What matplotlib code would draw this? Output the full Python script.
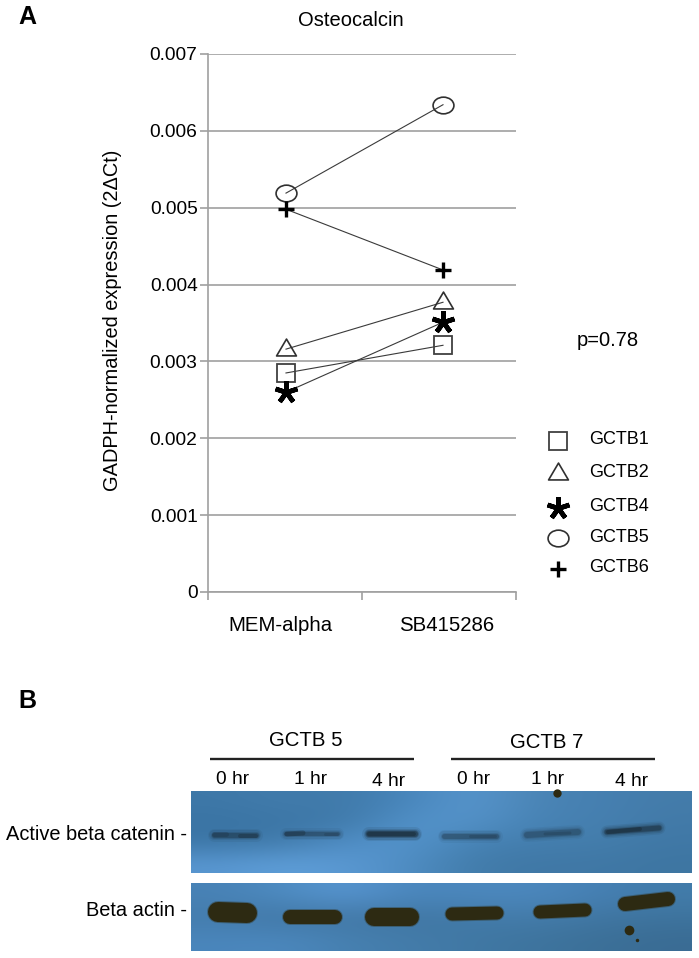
import numpy as np
import matplotlib
matplotlib.use("Agg")
import matplotlib.pyplot as plt
from matplotlib.path import Path
from matplotlib.transforms import Affine2D

plt.rcParams['font.family'] = ['Liberation Sans', 'DejaVu Sans']

# Dados do painel A
conditions = ['MEM-alpha', 'SB415286']
samples = ['GCTB1', 'GCTB2', 'GCTB4', 'GCTB5', 'GCTB6']
gctb1 = [0.00285, 0.00321]
gctb2 = [0.00316, 0.00377]
gctb4 = [0.00260, 0.00351]
gctb5 = [0.00519, 0.00634]
gctb6 = [0.00498, 0.00419]
yticks = [0, 0.001, 0.002, 0.003, 0.004, 0.005, 0.006, 0.007]
ytick_labels = ['0', '0.001', '0.002', '0.003', '0.004', '0.005', '0.006', '0.007']

# Dados do painel B (western blot)
lanes = ['0 hr', '1 hr', '4 hr', '0 hr', '1 hr', '4 hr']
lane_x = [233, 311, 389, 474, 548, 632]
lane_y = [779, 779, 780, 779, 778, 780]
# x0, x1, y0, y1, espessura, opacidade
catenin_bands = [
    (214, 256, 835, 835, 5, 0.55), (286, 338, 834, 834, 4, 0.5),
    (369, 415, 834, 834, 6, 0.85),
    (444, 496, 836, 836, 5, 0.5),
    (527, 578, 835, 832, 6, 0.45),
    (607, 659, 832, 828, 5, 0.75),
]
catenin_cores = [
    (214, 226, 834, 834, 5, 0.2), (240, 256, 836, 836, 4, 0.3),
    (287, 303, 834, 833, 5, 0.35), (325, 337, 834, 834, 3, 0.18),
    (369, 414, 834, 834, 4, 0.4),
    (470, 495, 836, 836, 3, 0.18),
    (545, 570, 834, 833, 3, 0.2),
    (608, 640, 832, 829, 4, 0.4),
]
actin_bands = [
    (218, 247, 912, 913, 20, 1.0),
    (290, 335, 917, 917, 14, 1.0),
    (374, 410, 917, 917, 18, 1.0),
    (452, 497, 914, 913, 13, 1.0),
    (540, 585, 912, 910, 13, 1.0),
    (625, 668, 904, 899, 14, 1.0),
]
catenin_bg = np.array([
    [[62, 120, 168], [66, 124, 172], [64, 122, 170], [72, 134, 188], [88, 150, 206], [74, 132, 180], [70, 128, 178], [68, 124, 170]],
    [[58, 116, 164], [60, 118, 166], [64, 122, 170], [82, 146, 202], [84, 146, 200], [70, 130, 180], [70, 128, 176], [66, 122, 168]],
    [[60, 118, 166], [66, 124, 172], [80, 142, 198], [84, 148, 204], [70, 130, 180], [68, 126, 174], [68, 126, 172], [64, 120, 166]],
    [[88, 150, 208], [94, 158, 216], [90, 152, 210], [78, 140, 194], [66, 124, 170], [64, 120, 166], [64, 120, 166], [62, 118, 162]],
], dtype=float) / 255
actin_bg = np.array([
    [[72, 130, 182], [78, 140, 194], [88, 150, 210], [74, 134, 188], [76, 136, 190], [76, 136, 190], [70, 128, 180], [66, 124, 170]],
    [[68, 124, 172], [64, 118, 164], [66, 120, 166], [64, 118, 162], [66, 122, 168], [68, 124, 170], [64, 118, 162], [62, 116, 158]],
    [[74, 134, 188], [76, 136, 190], [70, 128, 176], [68, 124, 170], [64, 120, 164], [62, 116, 158], [60, 112, 152], [58, 108, 148]],
], dtype=float) / 255

W, H = 699, 958
fig = plt.figure(figsize=(W / 100, H / 100), dpi=100)
PX = 72 / 100

# Painel A
x0, x1, y_top, y_bot = 208, 516, 54, 592
ax = fig.add_axes([x0 / W, 1 - y_bot / H, (x1 - x0) / W, (y_bot - y_top) / H])
ax.set_xlim(-0.4968, 1.465)
ax.set_ylim(0, 0.007)

square = 's'
triangle = Path([[-1, -0.65], [0, 1.05], [1, -0.65], [-1, -0.65]], closed=True)
ellipse = Path.unit_circle().transformed(Affine2D().scale(1, 0.8))
star = (5, 2, 0)
plus = '+'

styles = [
    (gctb1, square, 12.5, 1.3, '#404040'),
    (gctb2, triangle, 15, 1.2, '#303030'),
    (gctb4, star, 16.5, 3.4, 'black'),
    (gctb5, ellipse, 15, 1.2, '#303030'),
    (gctb6, plus, 11.5, 2.4, 'black'),
]
for vals, mk, ms, mew, col in styles:
    ax.plot([0, 1], vals, color='#3a3a3a', lw=0.8, zorder=3)
    ax.plot([0, 1], vals, ls='none', marker=mk, ms=ms, mew=mew, mec=col, mfc='none', zorder=4)

ax.set_yticks(yticks)
ax.set_yticklabels(ytick_labels, fontsize=13.8)
ax.set_xticks([-0.038, 1.025])
ax.set_xticklabels(conditions, fontsize=14.7)
ax.set_xticks([-0.4968, 0.484, 1.465], minor=True)
ax.tick_params(axis='x', which='major', length=0, pad=17)
ax.tick_params(axis='x', which='minor', length=6, width=1.2, color='#a0a0a0')
ax.tick_params(axis='y', length=6, width=1.2, color='#a0a0a0', pad=1.5)
ax.grid(axis='y', color='#a0a0a0', lw=1.2)
ax.set_axisbelow(True)
for s in ['top', 'right']:
    ax.spines[s].set_visible(False)
for s in ['left', 'bottom']:
    ax.spines[s].set_color('#a0a0a0')
    ax.spines[s].set_linewidth(1.2)

# Camada em pixels para textos e painel B
ov = fig.add_axes([0, 0, 1, 1], zorder=5)
ov.patch.set_alpha(0)

ov.text(27, 17, 'A', fontsize=18, fontweight='bold', ha='center', va='center')
ov.text(27, 701, 'B', fontsize=18, fontweight='bold', ha='center', va='center')
ov.text(351, 20, 'Osteocalcin', fontsize=14.5, ha='center', va='center')
ov.text(113, 320, 'GADPH-normalized expression (2ΔCt)', fontsize=14.4, rotation=90, ha='center', va='center')
ov.text(577, 340, 'p=0.78', fontsize=14.5, va='center')

# Legenda desenhada à mão
leg_y = [441, 473, 508, 538, 569]
leg_text_y = [439, 472, 506, 537, 568]
for name, ly, ty, (vals, mk, ms, mew, col) in zip(samples, leg_y, leg_text_y, styles):
    ov.plot([558], [ly], marker=mk, ms=ms, mew=mew, mec=col, mfc='none', ls='none')
    ov.text(589, ty, name, fontsize=13, va='center')

# Cabeçalho do blot
ov.plot([210, 414], [759, 759], color='#222222', lw=1.7, solid_capstyle='butt')
ov.plot([451, 655], [759, 759], color='#222222', lw=1.7, solid_capstyle='butt')
ov.text(306, 741, 'GCTB 5', fontsize=14.7, ha='center', va='center')
ov.text(547, 742, 'GCTB 7', fontsize=14.7, ha='center', va='center')
for lab, lx, ly in zip(lanes, lane_x, lane_y):
    ov.text(lx, ly + 1, lab, fontsize=13.8, ha='center', va='center')

ov.imshow(catenin_bg, extent=(191, 692, 873, 791), interpolation='bicubic', aspect='auto', zorder=1)
ov.imshow(actin_bg, extent=(191, 692, 951, 883), interpolation='bicubic', aspect='auto', zorder=1)
ov.set_xlim(0, W)
ov.set_ylim(H, 0)
ov.axis('off')

for a, b, y0, y1, th, op in catenin_bands:
    # camadas com alpha para borda difusa
    for extra, al in [(8, 0.12), (5, 0.18), (2, 0.3), (0, 0.5)]:
        ov.plot([a, b], [y0, y1], color='#16242e', lw=(th + extra) * PX, alpha=al * op,
                solid_capstyle='round', zorder=2)
for a, b, y0, y1, th, op in catenin_cores:
    ov.plot([a, b], [y0, y1], color='#16242e', lw=th * PX, alpha=op, solid_capstyle='round', zorder=2)
for a, b, y0, y1, th, op in actin_bands:
    ov.plot([a, b], [y0, y1], color='#2d2a12', lw=(th + 2) * PX, alpha=0.35, solid_capstyle='round', zorder=2)
    ov.plot([a, b], [y0, y1], color='#2d2a12', lw=th * PX, alpha=op, solid_capstyle='round', zorder=2)
ov.plot([629], [930], marker='o', ms=7, color='#2d2a12', mew=0, zorder=2)
ov.plot([637], [940], marker='o', ms=2.5, color='#2d2a12', mew=0, zorder=2)
ov.plot([557], [793], marker='o', ms=6, color='#2d2a12', mew=0, zorder=2)

ov.text(187, 835, 'Active beta catenin -', fontsize=14.4, ha='right', va='center')
ov.text(187, 911, 'Beta actin -', fontsize=14.4, ha='right', va='center')

fig.savefig('out.png', dpi=100)
